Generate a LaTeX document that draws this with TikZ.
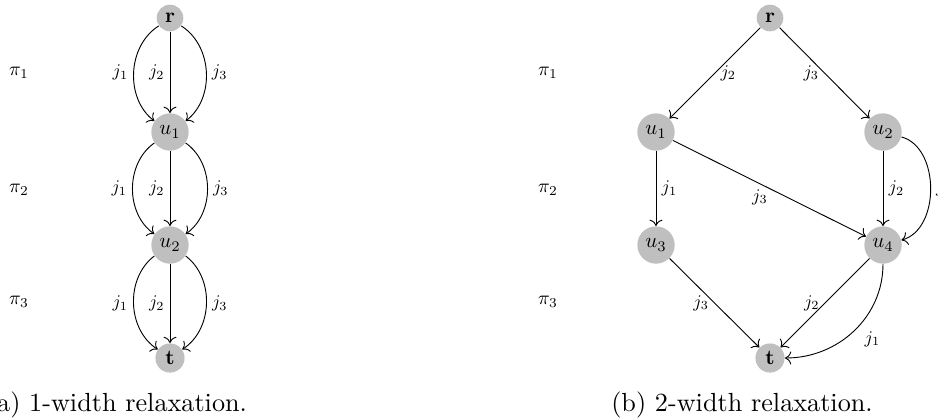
\documentclass[tikz,border=0pt]{standalone}
\usepackage{amsmath, amssymb}
\usepackage{tikz}
\usetikzlibrary{arrows, arrows.meta, positioning, calc}

\begin{document}
\begin{tikzpicture}[x=0.013416cm, y=0.013416cm,
	vertex/.style={circle, fill=black!25, inner sep=2.2pt, scale=0.8, transform shape},
	lbl/.style={inner sep=3pt, scale=0.68, transform shape},
	lvl/.style={scale=0.74, transform shape},
	arc/.style={->, line width=0.35pt},
	capt/.style={anchor=base, font=\normalsize}]

	\useasboundingbox (0,0) rectangle (938,417);
	\clip (0,0) rectangle (938,417);

	% (a) 1-width
	\node[vertex] (ra)  at (170,399) {$\mathbf{r}$};
	\node[vertex] (u1a) at (170,285) {$u_1$};
	\node[vertex] (u2a) at (170,172) {$u_2$};
	\node[vertex] (ta)  at (170,59)  {$\mathbf{t}$};

	\node[lvl] (p1a) at (19,344) {$\pi_1$};
	\node[lvl] (p2a) at (19,227) {$\pi_2$};
	\node[lvl] (p3a) at (19,115) {$\pi_3$};

	\draw[arc] (ra) to[bend right=55] node[lbl,left] {$j_1$} (u1a);
	\draw[arc] (ra) -- node[lbl,left] {$j_2$} (u1a);
	\draw[arc] (ra) to[bend left=55] node[lbl,right] {$j_3$} (u1a);

	\draw[arc] (u1a) to[bend right=55] node[lbl,left] {$j_1$} (u2a);
	\draw[arc] (u1a) -- node[lbl,left] {$j_2$} (u2a);
	\draw[arc] (u1a) to[bend left=55] node[lbl,right] {$j_3$} (u2a);

	\draw[arc] (u2a) to[bend right=55] node[lbl,left] {$j_1$} (ta);
	\draw[arc] (u2a) -- node[lbl,left] {$j_2$} (ta);
	\draw[arc] (u2a) to[bend left=55] node[lbl,right] {$j_3$} (ta);

	\node[capt] (capa) at (117,6) {(a) 1-width relaxation.};

	% (b) 2-width
	\node[vertex] (rb)  at (770,399) {$\mathbf{r}$};
	\node[vertex] (u1b) at (656,285) {$u_1$};
	\node[vertex] (u2b) at (883,285) {$u_2$};
	\node[vertex] (u3b) at (656,172) {$u_3$};
	\node[vertex] (u4b) at (883,172) {$u_4$};
	\node[vertex] (tb)  at (770,59)  {$\mathbf{t}$};

	\node[lvl] (p1b) at (548,344) {$\pi_1$};
	\node[lvl] (p2b) at (548,227) {$\pi_2$};
	\node[lvl] (p3b) at (548,115) {$\pi_3$};

	\draw[arc] (rb) -- node[lbl,right] {$j_2$} (u1b);
	\draw[arc] (rb) -- node[lbl,left] {$j_3$} (u2b);
	\draw[arc] (u1b) -- node[lbl,right] {$j_1$} (u3b);
	\draw[arc] (u1b) -- node[lbl,below,pos=0.45] {$j_3$} (u4b);
	\draw[arc] (u2b) -- node[lbl,right] {$j_2$} (u4b);
	\draw[arc] (u2b) to[bend left=75] node[lbl,right] {$j_1$} (u4b);
	\draw[arc] (u3b) -- node[lbl,left] {$j_3$} (tb);
	\draw[arc] (u4b) -- node[lbl,left] {$j_2$} (tb);
	\draw[arc] (u4b) to[out=-90, in=0] node[lbl,below right,pos=0.45] {$j_1$} (tb);

	\node[capt] (capb) at (742,6) {(b) 2-width relaxation.};
\end{tikzpicture}
\end{document}
